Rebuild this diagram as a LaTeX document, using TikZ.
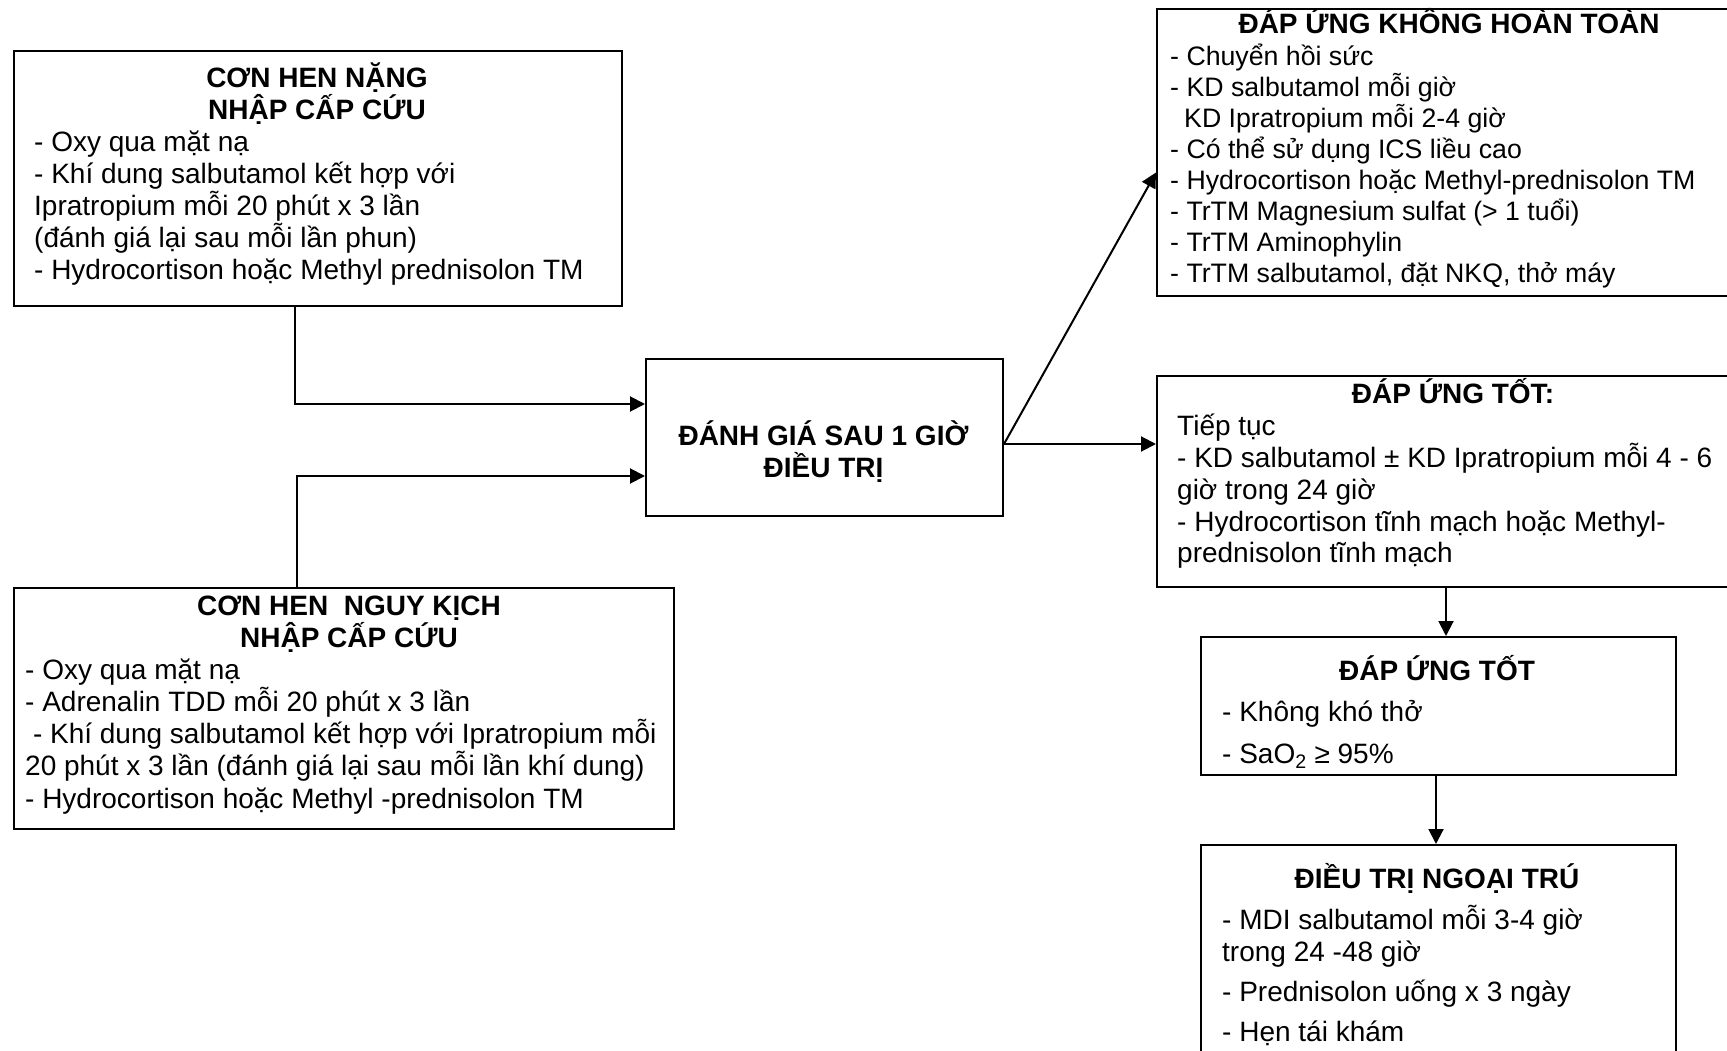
\documentclass[tikz,border=0pt]{standalone}
\usepackage{fontspec}
\setmainfont{Liberation Sans}
\usetikzlibrary{arrows.meta}
\newcommand{\fls}{\rule{0pt}{27pt}}
\newcommand{\bodyfnt}{\fontsize{28}{32.2}\selectfont\lineskiplimit=-100pt\relax}
\newcommand{\goodfnt}{\fontsize{28}{31.8}\selectfont\lineskiplimit=-100pt\relax}
\newcommand{\tightfnt}{\fontsize{28}{31}\selectfont\lineskiplimit=-100pt\relax}
\newcommand{\smallfnt}{\fontsize{26.7}{31}\selectfont\lineskiplimit=-100pt\relax}
\begin{document}
\begin{tikzpicture}[x=1pt,y=-1pt,
  box/.style={draw, line width=2pt, inner sep=0pt, anchor=north west},
  txt/.style={inner sep=0pt, anchor=north west, align=left, font=\bodyfnt},
  ttl/.style={inner sep=0pt, anchor=north, align=center, font=\bodyfnt\bfseries},
  conn/.style={line width=2pt, -{Triangle[length=15pt,width=15pt]}}
]
\useasboundingbox (0,0) rectangle (1727,1051);
\clip (0,0) rectangle (1727,1051);
\fill[white] (0,0) rectangle (1727,1051);

% boxes
\node[box, minimum width=608pt, minimum height=255pt] (severe) at (13,50) {};
\node[box, minimum width=357pt, minimum height=157pt] (eval) at (645,358) {};
\node[box, minimum width=660pt, minimum height=241pt] (crit) at (13,587) {};
\node[box, minimum width=590pt, minimum height=287pt] (partial) at (1156,8) {};
\node[box, minimum width=590pt, minimum height=211pt] (good1) at (1156,375) {};
\node[box, minimum width=475pt, minimum height=138pt] (good2) at (1200,636) {};
\node[box, minimum width=475pt, minimum height=260pt] (outp) at (1200,844) {};

% texts
\node[ttl] (severeT) at (317,60) {\fls CƠN HEN NẶNG\\NHẬP CẤP CỨU};
\node[txt] (severeB) at (34,124) {\fls - Oxy qua mặt nạ\\- Khí dung salbutamol kết hợp với\\Ipratropium mỗi 20 phút x 3 lần\\(đánh giá lại sau mỗi lần phun)\\- Hydrocortison hoặc Methyl prednisolon TM};

\node[ttl] (evalT) at (823.5,418) {\fls ĐÁNH GIÁ SAU 1 GIỜ\\ĐIỀU TRỊ};

\node[ttl] (critT) at (349,588) {\fls CƠN HEN~ NGUY KỊCH\\NHẬP CẤP CỨU};
\node[txt] (critB) at (25,652) {\fls - Oxy qua mặt nạ\\- Adrenalin TDD mỗi 20 phút x 3 lần\\\hspace*{7.8pt}- Khí dung salbutamol kết hợp với Ipratropium mỗi\\20 phút x 3 lần (đánh giá lại sau mỗi lần khí dung)\\- Hydrocortison hoặc Methyl -prednisolon TM};

\node[ttl, font=\tightfnt\bfseries] (partialT) at (1449,6) {\fls ĐÁP ỨNG KHÔNG HOÀN TOÀN};
\node[txt, font=\smallfnt] (partialB) at (1170,38) {\fls - Chuyển hồi sức\\- KD salbutamol mỗi giờ\\\hspace*{14pt}KD Ipratropium mỗi 2-4 giờ\\- Có thể sử dụng ICS liều cao\\- Hydrocortison hoặc Methyl-prednisolon TM\\- TrTM Magnesium sulfat (> 1 tuổi)\\- TrTM Aminophylin\\- TrTM salbutamol, đặt NKQ, thở máy};

\node[ttl, font=\goodfnt\bfseries] (good1T) at (1453,376) {\fls ĐÁP ỨNG TỐT:};
\node[txt, font=\goodfnt] (good1B) at (1177,408.5) {\fls Tiếp tục\\- KD salbutamol ± KD Ipratropium mỗi 4 - 6\\giờ trong 24 giờ\\- Hydrocortison tĩnh mạch hoặc Methyl-\\prednisolon tĩnh mạch};

\node[ttl] (good2T) at (1437,653) {\fls ĐÁP ỨNG TỐT};
\node[txt] (good2B) at (1222,694) {\fls - Không khó thở\\[9.8pt]- SaO\textsubscript{2} ≥ 95\%};

\node[ttl] (outpT) at (1437,861) {\fls ĐIỀU TRỊ NGOẠI TRÚ};
\node[txt] (outpB) at (1222,902) {\fls - MDI salbutamol mỗi 3-4 giờ\\trong 24 -48 giờ\\[8pt]- Prednisolon uống x 3 ngày\\[8pt]- Hẹn tái khám};

% connectors
\draw[conn] ([xshift=282pt]severe.south west) |- ([yshift=33.5pt]eval.west);
\draw[conn] ([xshift=284pt]crit.north west) |- ([yshift=-38.5pt]eval.west);
\draw[conn] ([yshift=-6.5pt]eval.east) -- ([yshift=-6.5pt]eval.east -| good1.west);
\draw[conn] ([yshift=-6.5pt]eval.east) -- ([yshift=-20pt]partial.west);
\draw[conn] ([xshift=-6pt]good1.south) -- ([xshift=-6pt]good1.south |- good2.north);
\draw[conn] ([xshift=-2.5pt]good2.south) -- ([xshift=-2.5pt]good2.south |- outp.north);
\end{tikzpicture}
\end{document}
